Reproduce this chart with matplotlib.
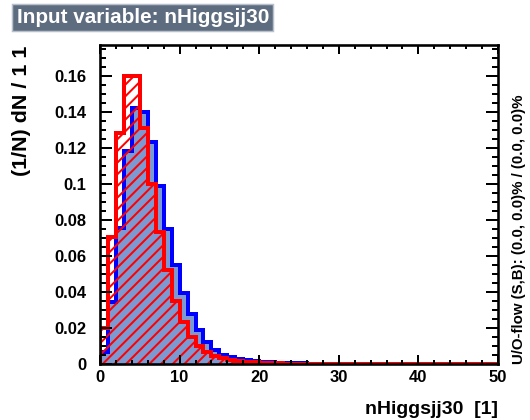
import numpy as np
import matplotlib
matplotlib.use("Agg")
import matplotlib.pyplot as plt
from matplotlib.patches import Rectangle
from matplotlib.ticker import MultipleLocator, FixedLocator, FixedFormatter

# ---------------- data ----------------
bin_edges = np.arange(0, 51, 1)  # 50 bins of width 1 from 0 to 50

signal = [0.0065, 0.034, 0.0755, 0.118, 0.142, 0.140, 0.123, 0.0985, 0.0745, 0.055,
          0.0393, 0.0275, 0.0187, 0.0122, 0.0075, 0.0048, 0.0034, 0.0025, 0.0020, 0.0015,
          0.0010, 0.0007, 0.0005, 0.0004, 0.0003, 0.0002, 0, 0, 0, 0,
          0, 0, 0, 0, 0, 0, 0, 0, 0, 0,
          0, 0, 0, 0, 0, 0, 0, 0, 0, 0]

background = [0.020, 0.0705, 0.128, 0.160, 0.160, 0.131, 0.0995, 0.073, 0.052, 0.035,
              0.023, 0.015, 0.010, 0.0063, 0.004, 0.003, 0.002, 0.0015, 0.001, 0.0008,
              0.0005, 0.0003, 0.0002, 0, 0, 0, 0, 0, 0, 0,
              0, 0, 0, 0, 0, 0, 0, 0, 0, 0,
              0, 0, 0, 0, 0, 0, 0, 0, 0, 0]

xticks = [0, 10, 20, 30, 40, 50]
xtick_labels = ["0", "10", "20", "30", "40", "50"]
yticks = [0, 0.02, 0.04, 0.06, 0.08, 0.10, 0.12, 0.14, 0.16]
ytick_labels = ["0", "0.02", "0.04", "0.06", "0.08", "0.1", "0.12", "0.14", "0.16"]

title_text = "Input variable: nHiggsjj30"
xlabel_text = "nHiggsjj30  [1]"
ylabel_text = "(1/N) dN / 1 1"
overflow_text = "U/O-flow (S,B): (0.0, 0.0)% / (0.0, 0.0)%"

# ---------------- style ----------------
DPI = 140
W, H = 530, 420
PX = 72.0 / DPI  # points per pixel

plt.rcParams['font.family'] = ['Liberation Sans', 'DejaVu Sans']
plt.rcParams['font.weight'] = 'bold'
plt.rcParams['hatch.linewidth'] = 2.0 * PX
plt.rcParams['hatch.color'] = 'red'

fig = plt.figure(figsize=(W / DPI, H / DPI), dpi=DPI)
ax = fig.add_axes([100 / W, 1 - 363.5 / H, 398 / W, 318.5 / H])

sig_fill = '#7D99D1'
sig_line = '#0000FF'
bkg_line = '#FF0000'
lw = 4.0 * PX

ax.stairs(signal, bin_edges, fill=True, facecolor=sig_fill, edgecolor='none', lw=0)
ax.stairs(signal, bin_edges, baseline=0, color=sig_line, lw=lw, joinstyle='miter')
ax.stairs(background, bin_edges, fill=True, facecolor='none', edgecolor=bkg_line,
          hatch='////', lw=0)
ax.stairs(background, bin_edges, baseline=0, color=bkg_line, lw=lw, joinstyle='miter')

ax.set_xlim(0, 50)
ax.set_ylim(0, 0.177)

ax.xaxis.set_major_locator(FixedLocator(xticks))
ax.xaxis.set_major_formatter(FixedFormatter(xtick_labels))
ax.xaxis.set_minor_locator(MultipleLocator(2))
ax.yaxis.set_major_locator(FixedLocator(yticks))
ax.yaxis.set_major_formatter(FixedFormatter(ytick_labels))
ax.yaxis.set_minor_locator(MultipleLocator(0.005))

for sp in ax.spines.values():
    sp.set_linewidth(2.6 * PX)

ax.tick_params(axis='both', which='both', direction='in', top=True, right=True,
               width=2.0 * PX, colors='black')
ax.tick_params(axis='y', which='major', length=12 * PX, pad=14 * PX, labelsize=16.5 * PX)
ax.tick_params(axis='y', which='minor', length=6 * PX)
ax.tick_params(axis='x', which='major', length=9 * PX, pad=7 * PX, labelsize=16.5 * PX)
ax.tick_params(axis='x', which='minor', length=4.5 * PX)
for lab in ax.get_xticklabels() + ax.get_yticklabels():
    lab.set_fontweight('bold')

# axis titles
fig.text(498 / W, 1 - 409 / H, xlabel_text, ha='right', va='center',
         fontsize=19.5 * PX, fontweight='bold')
fig.text(22 / W, 1 - 46 / H, ylabel_text, ha='center', va='top', rotation=90,
         fontsize=21.5 * PX, fontweight='bold')

# overflow text on right
fig.text(519 / W, 1 - 364 / H, overflow_text, ha='center', va='bottom', rotation=90,
         fontsize=15 * PX, fontweight='bold')

# title box
fig.add_artist(Rectangle((12 / W, 1 - 31 / H), 261 / W, 27 / H, transform=fig.transFigure,
                         facecolor='#5E6C80', edgecolor='#B8C0CC', lw=1.5 * PX))
fig.text(17 / W, 1 - 17.5 / H, title_text, ha='left', va='center', color='white',
         fontsize=20.6 * PX, fontweight='bold')

fig.savefig('out.png', dpi=DPI)
